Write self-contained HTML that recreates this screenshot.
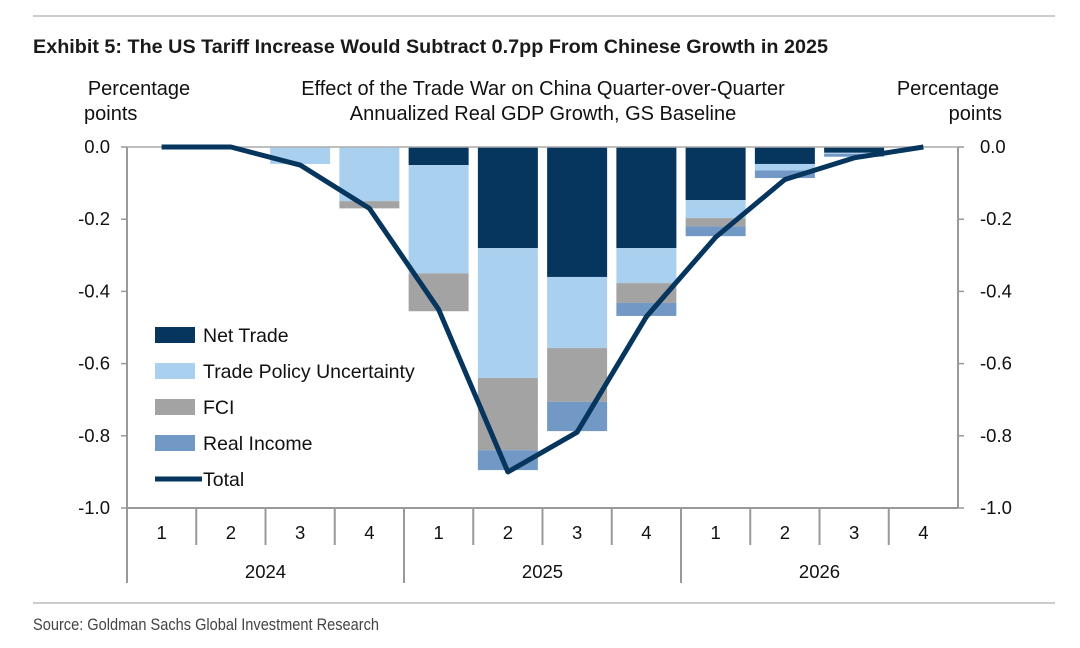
<!DOCTYPE html>
<html><head><meta charset="utf-8"><style>
html,body{margin:0;padding:0;background:#fff;}
svg{display:block;font-family:"Liberation Sans",Arial,sans-serif;}
</style></head><body>
<svg id="chart" width="1080" height="648" viewBox="0 0 1080 648">
<line x1="33" y1="16" x2="1055" y2="16" stroke="#bbb" stroke-width="1.5"/>
<text x="33" y="53" font-size="19.5" font-weight="bold" fill="#1a1a1a" textLength="795" lengthAdjust="spacingAndGlyphs">Exhibit 5: The US Tariff Increase Would Subtract 0.7pp From Chinese Growth in 2025</text>
<text x="139" y="95" font-size="20" text-anchor="middle" fill="#111">Percentage</text>
<text x="84" y="120" font-size="20" fill="#111">points</text>
<text x="543" y="95" font-size="20" text-anchor="middle" fill="#111">Effect of the Trade War on China Quarter-over-Quarter</text>
<text x="543" y="120" font-size="20" text-anchor="middle" fill="#111">Annualized Real GDP Growth, GS Baseline</text>
<text x="948" y="95" font-size="20" text-anchor="middle" fill="#111">Percentage</text>
<text x="1002" y="120" font-size="20" text-anchor="end" fill="#111">points</text>
<g id="plot"></g>
<line x1="33" y1="603" x2="1055" y2="603" stroke="#bbb" stroke-width="1.5"/>
<text x="33" y="630" font-size="16.5" fill="#444" textLength="346" lengthAdjust="spacingAndGlyphs">Source: Goldman Sachs Global Investment Research</text>
</svg>
<script>
const quarters=["1","2","3","4","1","2","3","4","1","2","3","4"];
const years=["2024","2025","2026"];
const netTrade=[0,0,0,0,-0.05,-0.28,-0.36,-0.28,-0.147,-0.047,-0.016,0];
const tradePolicy=[0,0,-0.047,-0.15,-0.30,-0.36,-0.197,-0.097,-0.05,-0.018,-0.003,0];
const fci=[0,0,0,-0.02,-0.105,-0.20,-0.149,-0.055,-0.023,0,0,0];
const realIncome=[0,0,0,0,0,-0.055,-0.081,-0.036,-0.027,-0.021,-0.008,0];
const total=[0,0,-0.05,-0.17,-0.45,-0.90,-0.79,-0.47,-0.25,-0.09,-0.03,0];
const yTicks=[0,-0.2,-0.4,-0.6,-0.8,-1.0];
const seriesNames=["Net Trade","Trade Policy Uncertainty","FCI","Real Income","Total"];

const NS="http://www.w3.org/2000/svg";
const g=document.getElementById('plot');
const X0=127,X1=958,Y0=147,Y1=508;
const bw=(X1-X0)/quarters.length;
const y=v=>Y0+(0-v)/1.0*(Y1-Y0);
const xc=i=>X0+bw*(i+0.5);
function el(t,a){const e=document.createElementNS(NS,t);for(const k in a)e.setAttribute(k,a[k]);g.appendChild(e);return e;}

const stacks=[[netTrade,"#06355e"],[tradePolicy,"#a9d1ef"],[fci,"#a3a3a3"],[realIncome,"#7299c6"]];
quarters.forEach((q,i)=>{
  let cum=0;
  stacks.forEach(([arr,col],s)=>{
    const v=arr[i]; if(v===0) return;
    const top=y(cum), bot=y(cum+v);
    const r=el('rect',{x:xc(i)-30,y:top,width:60,height:bot-top,fill:col});
    
    
    cum+=v;
  });
});

const ax=el('line',{x1:X0,y1:Y0,x2:X0,y2:583,stroke:'#999','stroke-width':2});


const ax2=el('line',{x1:X1,y1:Y0,x2:X1,y2:Y1,stroke:'#999','stroke-width':2});


const zl=el('line',{x1:X0,y1:Y0,x2:X1,y2:Y0,stroke:'#aaa','stroke-width':1.5});


const xa=el('line',{x1:X0,y1:Y1,x2:X1,y2:Y1,stroke:'#999','stroke-width':2});



yTicks.forEach(t=>{
  const yy=y(t);
  el('line',{x1:X0-6,y1:yy,x2:X0,y2:yy,stroke:'#999','stroke-width':1.5});
  el('line',{x1:X1,y1:yy,x2:X1+6,y2:yy,stroke:'#999','stroke-width':1.5});
  const lt=el('text',{x:X0-17,y:yy+6,'font-size':18.5,'text-anchor':'end',fill:'#111'});
  lt.textContent=t.toFixed(1);
  
  
  const rt=el('text',{x:X1+22,y:yy+6,'font-size':18.5,fill:'#111'});
  rt.textContent=t.toFixed(1);
  
  
});

quarters.forEach((q,i)=>{
  const tx=el('text',{x:xc(i),y:539,'font-size':18.5,'text-anchor':'middle',fill:'#111'});
  tx.textContent=q;
  
  
  if(i>0){
    const big=i%4===0;
    el('line',{x1:X0+bw*i,y1:Y1,x2:X0+bw*i,y2:big?583:545,stroke:'#999','stroke-width':2});
  }
});
years.forEach((yr,j)=>{
  const tx=el('text',{x:X0+bw*(4*j+2),y:578,'font-size':18.5,'text-anchor':'middle',fill:'#111'});
  tx.textContent=yr;
  
  
});

const pts=total.map((v,i)=>xc(i)+','+y(v)).join(' ');
const pl=el('polyline',{points:pts,fill:'none',stroke:'#06355e','stroke-width':5,'stroke-linejoin':'round'});



const legCols=["#06355e","#a9d1ef","#a3a3a3","#7299c6"];
seriesNames.forEach((n,k)=>{
  const ly=335+36*k;
  if(k<4){
    const r=el('rect',{x:155,y:ly-8,width:40,height:16,fill:legCols[k]});
    
    
  } else {
    const l=el('line',{x1:155,y1:ly,x2:202,y2:ly,stroke:'#06355e','stroke-width':5});
    
    
  }
  const t=el('text',{x:203,y:ly+7,'font-size':19.5,fill:'#111'});
  t.textContent=n;
  
  
});
</script>
</body></html>
